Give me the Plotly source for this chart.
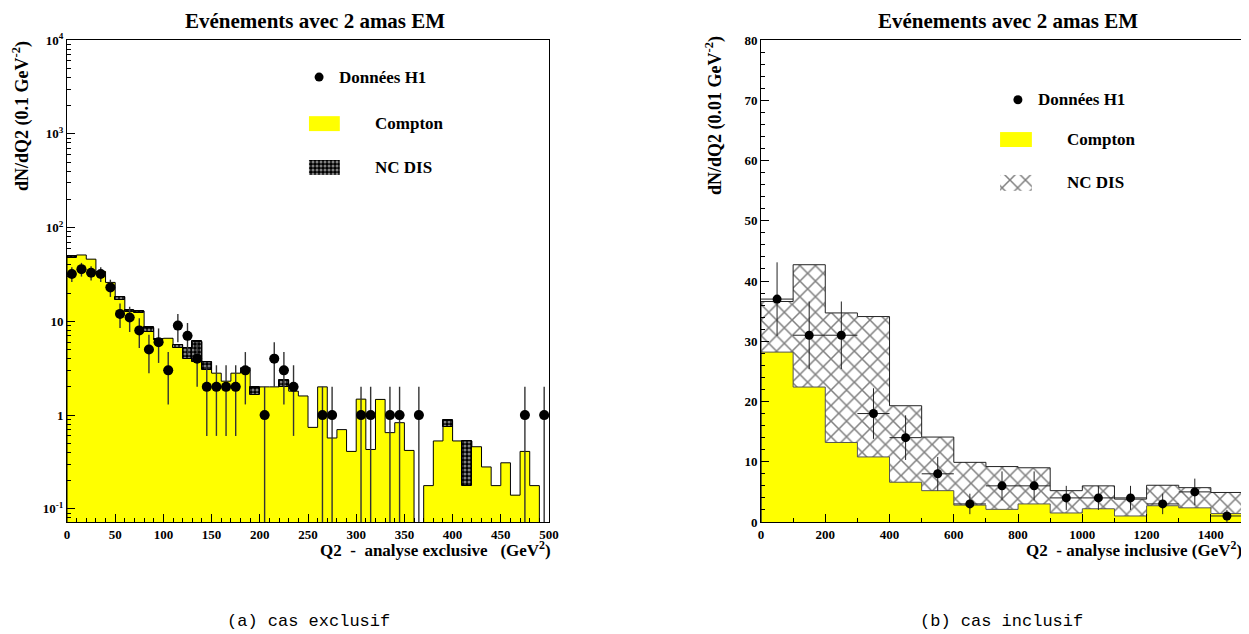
import plotly.graph_objects as go

# ---------------- data: left panel (exclusive analysis, 10 GeV^2 bins) ----------------
excl_edges = list(range(0, 510, 10))
excl_compton = [47, 51, 46, 34, 26, 17, 12.7, 12.3, 7.7, 6.4,
                6.6, 5.25, 4.0, 3.7, 3.0, 2.8, 2.3, 2.8, 3.2, 1.63,
                2.0, 2.0, 2.0, 1.8, 1.6, 0.74, 2.0, 0.57, 0.70, 0.41,
                1.48, 0.43, 1.47, 0.65, 0.83, 0.42, 0, 0.177, 0.53, 0.75,
                0.53, 0.177, 0.46, 0.28, 0.177, 0.31, 0.14, 0.41, 0.177, 0]
excl_total = [50, 51, 46, 34, 26, 18.3, 13.1, 12.9, 8.6, 6.5,
              6.6, 5.65, 5.25, 6.1, 3.7, 2.8, 2.3, 2.8, 3.2, 1.97,
              2.0, 2.0, 2.36, 1.8, 1.6, 0.74, 2.0, 0.57, 0.70, 0.41,
              1.48, 0.43, 1.47, 0.65, 0.83, 0.42, 0, 0.177, 0.53, 0.88,
              0.53, 0.53, 0.46, 0.28, 0.177, 0.31, 0.14, 0.41, 0.177, 0]
excl_data_x = [5, 15, 25, 35, 45, 55, 65, 75, 85, 95, 105, 115, 125, 135, 145, 155,
               165, 175, 185, 205, 215, 225, 235, 265, 275, 305, 315, 335, 345, 365, 475, 495]
excl_data_y = [32, 36, 33, 32, 23, 12, 11, 8, 5, 6, 3, 9, 7, 4, 2, 2,
               2, 2, 3, 1, 4, 3, 2, 1, 1, 1, 1, 1, 1, 1, 1, 1]
excl_data_err = [5.7, 6.0, 5.7, 5.7, 4.8, 3.5, 3.3, 2.8, 2.2, 2.4, 1.7, 3.0, 2.6, 2.0, 1.4, 1.4,
                 1.4, 1.4, 1.7, 1.0, 2.0, 1.7, 1.4, 1.0, 1.0, 1.0, 1.0, 1.0, 1.0, 1.0, 1.0, 1.0]

# ---------------- data: right panel (inclusive analysis, 100 GeV^2 bins) ----------------
incl_edges = list(range(0, 1600, 100))
incl_compton = [28.2, 22.4, 13.2, 10.8, 6.6, 5.2, 2.8, 2.1, 3.0, 1.5, 2.2, 1.0, 2.7, 2.35, 1.4]
incl_total = [36.6, 42.7, 34.7, 34.1, 19.3, 14.1, 9.9, 9.2, 9.0, 5.2, 6.0, 3.8, 6.1, 5.7, 4.9]
incl_data_x = [50, 150, 250, 350, 450, 550, 650, 750, 850, 950, 1050, 1150, 1250, 1350, 1450]
incl_data_y = [37, 31, 31, 18, 14, 8, 3, 6, 6, 4, 4, 4, 3, 5, 1]
incl_data_err = [6.1, 5.6, 5.6, 4.2, 3.7, 2.8, 1.7, 2.4, 2.4, 2.0, 2.0, 2.0, 1.7, 2.2, 1.0]

# ---------------- text ----------------
title_txt = "Evénements avec 2 amas EM"
ylab_left = "dN/dQ2 (0.1 GeV<sup>-2</sup>)"
ylab_right = "dN/dQ2 (0.01 GeV<sup>-2</sup>)"
xlab_left = "Q2 &nbsp;- &nbsp;analyse exclusive &nbsp;&nbsp;(GeV<sup>2</sup>)"
xlab_right = "Q2 &nbsp;- analyse inclusive (GeV<sup>2</sup>)"
cap_left = "(a) cas exclusif"
cap_right = "(b) cas inclusif"
leg_labels = ["Données H1", "Compton", "NC DIS"]
log_tickvals = [0.1, 1, 10, 100, 1000, 10000]
log_ticktext = ["10<sup>-1</sup>", "1", "10", "10<sup>2</sup>", "10<sup>3</sup>", "10<sup>4</sup>"]

# page body has an 8 px margin: figure is sized/positioned to fill the 1249x634 window
OFF = 8
W, H = 1249 - OFF, 634 - OFF
SERIF = "Liberation Serif"
YELLOW = "#ffff00"
PAT_LEFT = dict(shape=".", fgcolor="white", bgcolor="black", size=4, solidity=0.45)
PAT_RIGHT = dict(shape="x", fgcolor="black", bgcolor="white", size=11, solidity=0.26)


def px_x(p):
    return (p - OFF) / W


def px_y(p):
    return 1 - (p - OFF) / H


def centers(edges):
    return [(a + b) / 2 for a, b in zip(edges[:-1], edges[1:])]


def step(edges, vals, floor):
    xs = [edges[0]] + list(edges) + [edges[-1]]
    ys = [floor] + [v if v > 0 else floor for v in vals] + [vals[-1] if vals[-1] > 0 else floor, floor]
    return xs, ys


L_dom = [px_x(67), px_x(549)]
R_dom = [px_x(761), min(1.0, px_x(1243))]
Y_dom = [px_y(522), px_y(40)]

fig = go.Figure()

# ---------- left panel ----------
ec = centers(excl_edges)
nc_excl = [t - c for t, c in zip(excl_total, excl_compton)]
fig.add_trace(go.Bar(x=ec, y=[v if v > 0 else None for v in excl_compton], width=10,
                     marker=dict(color=YELLOW, line=dict(width=0)), xaxis="x", yaxis="y"))
fig.add_trace(go.Bar(x=ec, y=[v if v > 0.005 else None for v in nc_excl], base=excl_compton, width=10,
                     marker=dict(color="black", line=dict(width=1, color="black"), pattern=PAT_LEFT),
                     xaxis="x", yaxis="y"))
sx, sy = step(excl_edges, excl_total, 1e-4)
fig.add_trace(go.Scatter(x=sx, y=sy, mode="lines", line=dict(shape="hv", color="black", width=1),
                         xaxis="x", yaxis="y"))
fig.add_trace(go.Scatter(x=excl_data_x, y=excl_data_y, mode="markers",
                         marker=dict(color="black", size=10),
                         error_y=dict(type="data", array=excl_data_err, color="#333", thickness=1.4, width=0),
                         error_x=dict(type="constant", value=5, color="#333", thickness=1.4, width=0),
                         xaxis="x", yaxis="y"))

# ---------- right panel ----------
ic = centers(incl_edges)
nc_incl = [t - c for t, c in zip(incl_total, incl_compton)]
fig.add_trace(go.Bar(x=ic, y=incl_compton, width=100,
                     marker=dict(color=YELLOW, line=dict(width=0)), xaxis="x2", yaxis="y2"))
fig.add_trace(go.Bar(x=ic, y=nc_incl, base=incl_compton, width=100,
                     marker=dict(color="white", line=dict(width=0), pattern=PAT_RIGHT),
                     xaxis="x2", yaxis="y2"))
sx, sy = step(incl_edges, incl_compton, 0)
fig.add_trace(go.Scatter(x=sx, y=sy, mode="lines", line=dict(shape="hv", color="#555", width=1),
                         xaxis="x2", yaxis="y2"))
sx, sy = step(incl_edges, incl_total, 0)
fig.add_trace(go.Scatter(x=sx, y=sy, mode="lines", line=dict(shape="hv", color="#222", width=1),
                         xaxis="x2", yaxis="y2"))
fig.add_trace(go.Scatter(x=incl_data_x, y=incl_data_y, mode="markers",
                         marker=dict(color="black", size=9),
                         error_y=dict(type="data", array=incl_data_err, color="#222", thickness=1, width=0),
                         error_x=dict(type="constant", value=50, color="#222", thickness=1, width=0),
                         xaxis="x2", yaxis="y2"))


# ---------- legends (overlay unit axes) ----------
def add_legend(xa, ya, mk, box_u, yel_v, nc_v, text_u_mk, text_u_box, pat, pat_bg):
    fig.add_trace(go.Scatter(x=[mk[0]], y=[mk[1]], mode="markers", marker=dict(color="black", size=9),
                             xaxis=xa, yaxis=ya))
    u0, u1 = box_u
    fig.add_trace(go.Scatter(x=[u0, u1, u1, u0, u0], y=[yel_v[0], yel_v[0], yel_v[1], yel_v[1], yel_v[0]],
                             mode="lines", fill="toself", fillcolor=YELLOW, line=dict(width=0),
                             xaxis=xa, yaxis=ya))
    fig.add_trace(go.Scatter(x=[u0, u1, u1, u0, u0], y=[nc_v[0], nc_v[0], nc_v[1], nc_v[1], nc_v[0]],
                             mode="lines", fill="toself", fillcolor=pat_bg, line=dict(width=0),
                             fillpattern=pat, xaxis=xa, yaxis=ya))
    f = dict(family=SERIF, size=17, color="black")
    fig.add_annotation(x=text_u_mk, y=mk[1], xref=xa, yref=ya, text="<b>%s</b>" % leg_labels[0],
                       showarrow=False, xanchor="left", yanchor="middle", font=f)
    fig.add_annotation(x=text_u_box, y=sum(yel_v) / 2, xref=xa, yref=ya, text="<b>%s</b>" % leg_labels[1],
                       showarrow=False, xanchor="left", yanchor="middle", font=f)
    fig.add_annotation(x=text_u_box, y=sum(nc_v) / 2, xref=xa, yref=ya, text="<b>%s</b>" % leg_labels[2],
                       showarrow=False, xanchor="left", yanchor="middle", font=f)


add_legend("x3", "y3", (0.523, 0.923), (0.502, 0.566), (0.811, 0.842), (0.720, 0.751), 0.560, 0.634,
           PAT_LEFT, "black")
add_legend("x4", "y4", (0.533, 0.876), (0.496, 0.562), (0.778, 0.809), (0.687, 0.720), 0.571, 0.630,
           PAT_RIGHT, "white")

tickfont = dict(family=SERIF, size=13, color="black", weight="bold")
axis_common = dict(showline=True, linecolor="black", linewidth=1, mirror=True, showgrid=False,
                   zeroline=False, ticks="inside", tickcolor="black", tickwidth=1, ticklen=8,
                   tickfont=tickfont, automargin=False)
unit_axis = dict(range=[0, 1], visible=False, showgrid=False, zeroline=False, fixedrange=True,
                 automargin=False)

minor_log = [m * 10 ** k for k in range(-2, 4) for m in range(2, 10)]

fig.update_layout(
    width=W, height=H, margin=dict(l=0, r=0, t=0, b=0, pad=0, autoexpand=False),
    paper_bgcolor="white", plot_bgcolor="white", showlegend=False,
    barmode="overlay", bargap=0,
    xaxis=dict(domain=L_dom, anchor="y", range=[0, 500], tickvals=list(range(0, 550, 50)),
               minor=dict(ticks="inside", ticklen=4, dtick=10, tickcolor="black"), **axis_common),
    yaxis=dict(domain=Y_dom, anchor="x", type="log", range=[-1.14, 4], tickvals=log_tickvals,
               ticktext=log_ticktext,
               minor=dict(ticks="inside", ticklen=4, tickvals=minor_log, tickcolor="black"), **axis_common),
    xaxis2=dict(domain=R_dom, anchor="y2", range=[0, 1500], dtick=200,
                minor=dict(ticks="inside", ticklen=4, dtick=100, tickcolor="black"), **axis_common),
    yaxis2=dict(domain=Y_dom, anchor="x2", range=[0, 80], dtick=10,
                minor=dict(ticks="inside", ticklen=4, dtick=2, tickcolor="black"), **axis_common),
    xaxis3=dict(overlaying="x", anchor="y3", **unit_axis),
    yaxis3=dict(overlaying="y", anchor="x3", **unit_axis),
    xaxis4=dict(overlaying="x2", anchor="y4", **unit_axis),
    yaxis4=dict(overlaying="y2", anchor="x4", **unit_axis),
)

ann_font = dict(family=SERIF, color="black")
for cx, xt_right, xtxt, cap in [(315, 553, xlab_left, cap_left),
                                (1008, 1244, xlab_right, cap_right)]:
    fig.add_annotation(x=px_x(cx), y=1, xref="paper", yref="paper", text="<b>%s</b>" % title_txt,
                       showarrow=False, xanchor="center", yanchor="top", yshift=1,
                       font=dict(size=21, **ann_font))
    fig.add_annotation(x=min(1.0, px_x(xt_right)), y=px_y(549), xref="paper", yref="paper",
                       text="<b>%s</b>" % xtxt,
                       showarrow=False, xanchor="right", yanchor="middle", font=dict(size=17, **ann_font))
    fig.add_annotation(x=px_x(cx - 7), y=px_y(621), xref="paper", yref="paper", text=cap,
                       showarrow=False, xanchor="center", yanchor="middle",
                       font=dict(family="Liberation Mono", size=17, color="black"))
for xc, ytxt in [(21, ylab_left), (714, ylab_right)]:
    fig.add_annotation(x=px_x(xc), y=px_y(116), xref="paper", yref="paper", text="<b>%s</b>" % ytxt,
                       showarrow=False, textangle=-90, xanchor="center", yanchor="middle",
                       font=dict(size=18, **ann_font))

fig.write_html("out.html")
